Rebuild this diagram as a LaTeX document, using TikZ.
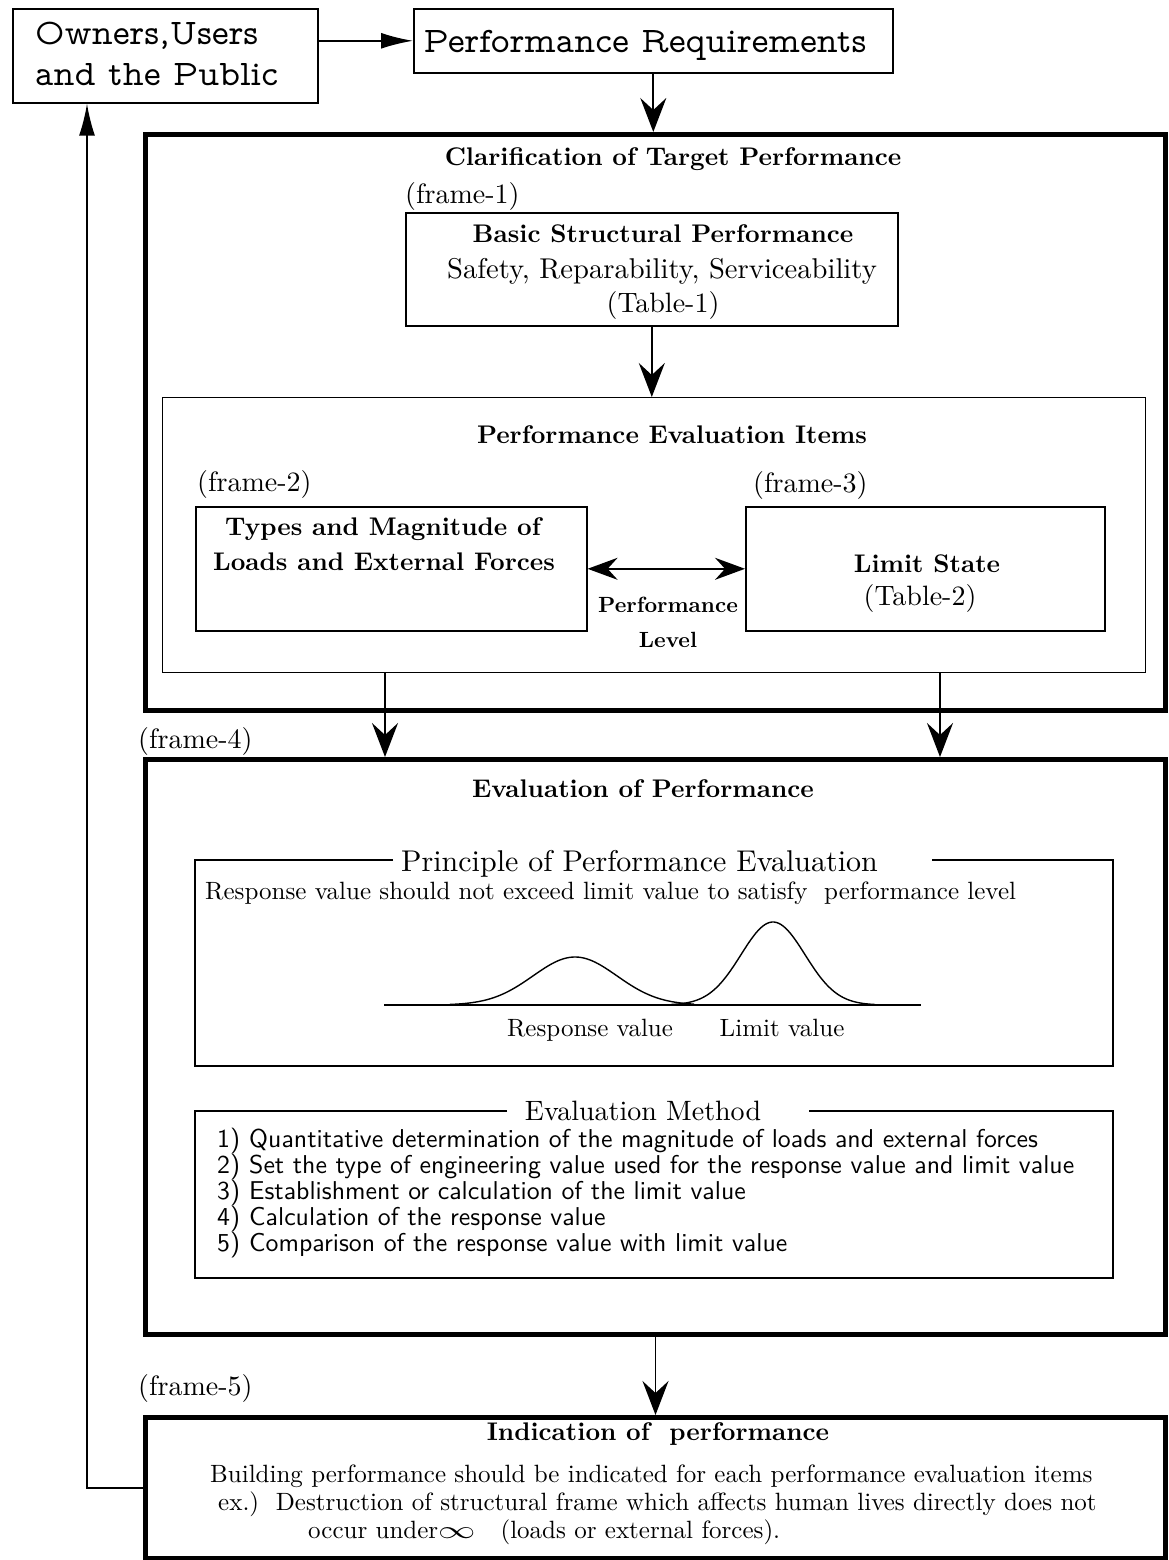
\documentclass[tikz,border=0pt]{standalone}
\usepackage{fontspec}
\usepackage{graphicx}
\setmainfont{lmroman10-regular.otf}[BoldFont=lmroman10-bold.otf]
\setsansfont{lmsans10-regular.otf}
\setmonofont{lmmono10-regular.otf}
\newfontfamily\propmono{lmmonoprop10-regular.otf}
\usetikzlibrary{arrows.meta}

% type sizes
\newcommand\fntB{\fontsize{25.5}{30}\selectfont\bfseries}
\newcommand\fntR{\fontsize{28}{33}\selectfont}
\newcommand\fntH{\fontsize{30}{35}\selectfont}
\newcommand\fntE{\fontsize{28}{33}\selectfont}
\newcommand\fntM{\fontsize{25}{30}\selectfont}
\newcommand\fntT{\fontsize{36}{41}\selectfont\propmono}
\newcommand\fntI{\fontsize{25.8}{26}\selectfont\sffamily}
\newcommand\fntP{\fontsize{22}{30}\selectfont\bfseries}

\tikzset{
  box/.style={draw, line width=1.6pt, inner sep=0pt, anchor=north west},
  bigframe/.style={draw, line width=5pt, inner sep=0pt, anchor=north west},
  panel/.style={draw, line width=1.3pt, inner sep=0pt, anchor=north west},
  panelline/.style={line width=1.3pt},
  lbl/.style={inner sep=0pt, anchor=base west},
  ctr/.style={inner sep=0pt, anchor=base},
  conn/.style={line width=1.8pt},
  tri/.style={conn, -{Latex[length=32pt,width=16pt]}},
  stl/.style={conn, -{Stealth[length=34pt,width=26pt,inset=12pt]}},
  dbl/.style={conn, {Stealth[length=30pt,width=22pt,inset=10pt]}-{Stealth[length=30pt,width=22pt,inset=10pt]}},
  curve/.style={line width=1.4pt}
}

\begin{document}
\begin{tikzpicture}[x=1pt,y=-1pt]
\useasboundingbox (0,0) rectangle (1168,1560);

% ---- stakeholders and requirements
\node[box, minimum width=305pt, minimum height=94pt] (own) at (12,8) {};
\node[lbl] (ownA) at (35,45) {\fntT Owners,Users};
\node[lbl] (ownB) at (35,86) {\fntT and the Public};
\node[box, minimum width=479pt, minimum height=64pt] (req) at (413,8) {};
\node[ctr] (reqT) at (645,53) {\fntT Performance Requirements};

% ---- frame 1: target performance
\node[bigframe, minimum width=1020pt, minimum height=576pt] (f1) at (143,132) {};
\node[ctr] (f1T) at (673,165) {\fntB Clarification of Target Performance};
\node[lbl] (f1L) at (405,203) {\fntR (frame-1)};
\node[box, minimum width=492pt, minimum height=113pt] (basic) at (405,212) {};
\node[ctr] (basicA) at (663,242) {\fntB Basic Structural Performance};
\node[ctr] (basicB) at (662,278) {\fontsize{28.6}{33}\selectfont Safety, Reparability, Serviceability};
\node[ctr] (basicC) at (663,312) {\fntR (Table-1)};

\node[panel, minimum width=983pt, minimum height=275pt] (pei) at (162,397) {};
\node[ctr] (peiT) at (672,443) {\fntB Performance Evaluation Items};
\node[lbl] (f2L) at (197,491) {\fntR (frame-2)};
\node[lbl] (f3L) at (753,492) {\fntR (frame-3)};
\node[box, minimum width=391pt, minimum height=124pt] (types) at (195,506) {};
\node[ctr] (typesA) at (383,535) {\fntB Types and Magnitude of};
\node[ctr] (typesB) at (384,570) {\fntB Loads and External Forces};
\node[box, minimum width=359pt, minimum height=124pt] (limit) at (745,506) {};
\node[ctr] (limitA) at (927,572) {\fntB Limit State};
\node[ctr] (limitB) at (920,605) {\fntR (Table-2)};
\node[ctr] (plA) at (668,612) {\fntP Performance};
\node[ctr] (plB) at (668,647) {\fntP Level};

% ---- frame 4: evaluation
\node[lbl] (f4L) at (138,748) {\fntR (frame-4)};
\node[bigframe, minimum width=1020pt, minimum height=575pt] (f4) at (143,757) {};
\node[ctr] (f4T) at (643,797) {\fntB Evaluation of Performance};

% principle panel, top border broken by its title
\draw[panelline] (393,860) -- (195,860) -- (195,1066) -- (1113,1066) -- (1113,860) -- (932,860);
\node[lbl] (prT) at (401,871) {\fntH Principle of Performance Evaluation};
\node[lbl] (prS) at (205,899) {\fntM Response value should not exceed limit value to satisfy\ \ performance level};
\draw[curve] (384,1005) -- (921,1005);
\draw[curve] plot[domain=450:694, samples=90, smooth] (\x, {1005-48*exp(-((\x-575)^2)/3528)});
\draw[curve] plot[domain=671:875, samples=90, smooth] (\x, {1005-83*exp(-((\x-773)^2)/2048)});
\node[ctr] (rvL) at (590,1036) {\fntM Response value};
\node[ctr] (lvL) at (782,1036) {\fntM Limit value};

% method panel, top border broken by its title
\draw[panelline] (507,1111) -- (195,1111) -- (195,1278) -- (1113,1278) -- (1113,1111) -- (809,1111);
\node[ctr] (emT) at (643,1120) {\fntE Evaluation Method};
\node[lbl] (em1) at (217,1147) {\fntI\makebox[32pt][l]{1)}Quantitative determination of the magnitude of loads and external forces};
\node[lbl] (em2) at (217,1173) {\fntI\makebox[32pt][l]{2)}Set the type of engineering value used for the response value and limit value};
\node[lbl] (em3) at (217,1199) {\fntI\makebox[32pt][l]{3)}Establishment or calculation of the limit value};
\node[lbl] (em4) at (217,1225) {\fntI\makebox[32pt][l]{4)}Calculation of the response value};
\node[lbl] (em5) at (217,1251) {\fntI\makebox[32pt][l]{5)}Comparison of the response value with limit value};

% ---- frame 5: indication
\node[lbl] (f5L) at (138,1395) {\fntR (frame-5)};
\node[bigframe, minimum width=1020pt, minimum height=141pt] (f5) at (143,1415) {};
\node[ctr] (f5T) at (658,1440) {\fntB Indication of\ \ performance};
\node[lbl] (f5A) at (210,1482) {\fntM Building performance should be indicated for each performance evaluation items};
\node[lbl] (f5B) at (218,1510) {\fntM ex.)\ \ Destruction of structural frame which affects human lives directly does not};
\node[lbl] (f5C) at (308,1538) {\fntM occur under\scalebox{1.5}[1]{$\infty$}\quad(loads or external forces).};

% ---- connectors
\coordinate (colL) at (385,0);
\coordinate (colR) at (940,0);
\coordinate (fb) at (87,0);
\draw[tri] (own.east |- req.west) -- (req.west);
\draw[stl] (req.south) -- (req.south |- f1.north);
\draw[stl] (basic.south) -- (basic.south |- pei.north);
\draw[dbl] (types.east) -- (types.east -| limit.west);
\draw[stl] (pei.south -| colL) -- (f4.north -| colL);
\draw[stl] (pei.south -| colR) -- (f4.north -| colR);
\draw[stl] (f4.south) -- (f4.south |- f5.north);
\draw[tri] (f5.west) -- (f5.west -| fb) -- (own.south -| fb);
\end{tikzpicture}
\end{document}
